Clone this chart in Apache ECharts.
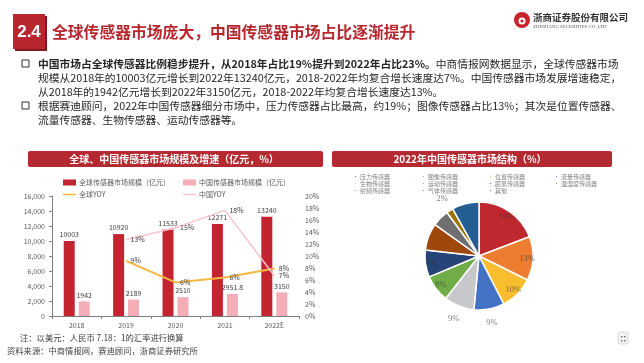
<!DOCTYPE html>
<html><head><meta charset="utf-8">
<script src="https://cdn.jsdelivr.net/npm/echarts@6/dist/echarts.min.js"></script>
<style>html,body{margin:0;padding:0;background:#fff}#c{width:644px;height:363px}</style>
</head><body><div id="c"></div>
<script>
// ---------- data ----------
const years = ['2018', '2019', '2020', '2021', '2022E'];
const globalSize = [10003, 10920, 11533, 12271, 13240];
const chinaSize = [1942, 2189, 2510, 2951.8, 3150];
const globalYoy = [null, 9.2, 5.6, 6.4, 7.9];
const chinaYoy = [null, 12.7, 14.7, 17.6, 6.7];
const sizeAxisMax = 16000;
const sizeAxisStep = 2000;
const yoyAxisMax = 20;
const yoyAxisStep = 2;
const seriesNames = ['全球传感器市场规模（亿元）', '中国传感器市场规模（亿元）', '全球YOY', '中国YOY'];
const pieNames = ['压力传感器', '图像传感器', '位置传感器', '流量传感器', '生物传感器', '运动传感器',
  '距离传感器', '温湿度传感器', '射频传感器', '气体传感器', '其他'];
const pieValues = [19, 13, 10, 9, 9, 8, 8, 8, 5, 2, 8];

// ---------- styling ----------
const FONT = '"Noto Sans CJK SC","Noto Sans",sans-serif';
const RED = '#B8262E';
const pieColors = ['#C0282F', '#ED7D31', '#F9BE2F', '#4472C4', '#C6C8CC', '#70AD47',
  '#264478', '#9E480E', '#6F6F6F', '#997300', '#255E91'];
const insideLabelIdx = [0, 1, 2, 5, 6];
const outsideLabelIdx = [3, 4, 9];
const pieLegendCols = [[0, 4, 8], [1, 5, 9], [2, 6, 10], [3, 7]];
const pieLegendX = [353, 421, 488, 554];

const chart = echarts.init(document.getElementById('c'), null, {renderer: 'canvas'});

function txt(x, y, text, size, fill, opts) {
  return {
    type: 'text', silent: true,
    style: Object.assign({
      x: x, y: y, text: text, fill: fill,
      fontSize: size, fontFamily: FONT, textVerticalAlign: 'middle'
    }, opts || {})
  };
}
const BODY = 10.75;

const graphics = [
  // section number box
  {type: 'rect', silent: true, shape: {x: 15, y: 16, width: 32, height: 35}, style: {fill: '#7d1a1f'}},
  {type: 'rect', silent: true, shape: {x: 13, y: 14, width: 32, height: 35}, style: {fill: RED}},
  txt(29, 32, '2.4', 17, '#fff', {textAlign: 'center', fontWeight: 'bold', fontFamily: '"Liberation Sans",Arial,sans-serif'}),
  txt(52, 32, '全球传感器市场庞大，中国传感器市场占比逐渐提升', 15.8, RED, {fontWeight: 'bold'}),
  // logo
  {type: 'circle', silent: true, shape: {cx: 522, cy: 20, r: 8}, style: {fill: '#C8242B'}},
  {type: 'circle', silent: true, shape: {cx: 522, cy: 21, r: 3.5}, style: {fill: '#fff'}},
  {type: 'circle', silent: true, shape: {cx: 522, cy: 21, r: 1.6}, style: {fill: '#C8242B'}},
  txt(533, 17, '浙商证券股份有限公司', 9.5, '#333', {fontWeight: 'bold', fontFamily: '"Noto Sans CJK SC",serif'}),
  txt(533, 27, 'ZHESHANG SECURITIES CO.,LTD', 4.8, '#555', {fontFamily: '"Liberation Serif",serif'}),
  // bullet text block
  {type: 'rect', silent: true, shape: {x: 22, y: 60, width: 7, height: 7}, style: {fill: 'none', stroke: '#333', lineWidth: 1}},
  {type: 'rect', silent: true, shape: {x: 22, y: 102, width: 7, height: 7}, style: {fill: 'none', stroke: '#333', lineWidth: 1}},
  {type: 'text', silent: true, style: {x: 38, y: 64, textVerticalAlign: 'middle', fontSize: BODY, fontFamily: FONT, fill: '#262626',
    text: '{b|中国市场占全球传感器比例稳步提升，从2018年占比19%提升到2022年占比23%。}中商情报网数据显示，全球传感器市场',
    rich: {b: {fontWeight: 'bold', fontSize: BODY, fontFamily: FONT, fill: '#262626'}}}},
  txt(38, 78, '规模从2018年的10003亿元增长到2022年13240亿元，2018-2022年均复合增长速度达7%。中国传感器市场发展增速稳定，', BODY, '#262626'),
  txt(38, 92, '从2018年的1942亿元增长到2022年3150亿元，2018-2022年均复合增长速度达13%。', BODY, '#262626'),
  txt(38, 106, '根据赛迪顾问，2022年中国传感器细分市场中，压力传感器占比最高，约19%；图像传感器占比13%；其次是位置传感器、', BODY, '#262626'),
  txt(38, 120, '流量传感器、生物传感器、运动传感器等。', BODY, '#262626'),
  // chart header bars
  {type: 'rect', silent: true, shape: {x: 28, y: 151, width: 295, height: 16, r: 2}, style: {fill: '#B52A31'}},
  txt(174, 159, '全球、中国传感器市场规模及增速（亿元，%）', 10, '#fff', {textAlign: 'center', fontWeight: 'bold'}),
  {type: 'rect', silent: true, shape: {x: 332, y: 151, width: 280, height: 16, r: 2}, style: {fill: '#B52A31'}},
  txt(470, 159, '2022年中国传感器市场结构（%）', 10, '#fff', {textAlign: 'center', fontWeight: 'bold'}),
  // footer
  txt(20, 338, '注：以美元：人民币 7.18：1的汇率进行换算', 8.3, '#404040'),
  txt(7, 351, '资料来源：中商情报网，赛迪顾问，浙商证券研究所', 8.3, '#404040'),
  // small corner icon
  {type: 'rect', silent: true, shape: {x: 618, y: 332, width: 10, height: 12, r: 2}, style: {fill: '#f4f4f4', stroke: '#d0d0d0', lineWidth: 0.8}},
  {type: 'rect', silent: true, shape: {x: 621, y: 336, width: 1.5, height: 1.5}, style: {fill: '#777'}},
  {type: 'rect', silent: true, shape: {x: 624, y: 336, width: 1.5, height: 1.5}, style: {fill: '#777'}},
  {type: 'rect', silent: true, shape: {x: 621, y: 340, width: 1.5, height: 1.5}, style: {fill: '#777'}},
  {type: 'rect', silent: true, shape: {x: 624, y: 340, width: 1.5, height: 1.5}, style: {fill: '#777'}}
];

const legendText = {fontSize: 7, color: '#595959', fontFamily: FONT};
function barLegend(name, left, top, icon, h) {
  return {data: [{name: name, icon: icon}], left: left, top: top, itemWidth: 13, itemHeight: h,
    itemGap: 0, padding: 0, textStyle: Object.assign({padding: [0, 0, 0, -2]}, legendText), selectedMode: false};
}

const pieLegends = pieLegendCols.map(function (col, ci) {
  return {
    orient: 'vertical', left: pieLegendX[ci], top: 173, padding: 0, itemGap: 0,
    itemWidth: 3, itemHeight: 3, icon: 'circle', selectedMode: false,
    data: col.map(function (i) { return pieNames[i]; }),
    textStyle: {fontSize: 6, lineHeight: 7, color: '#7f7f7f', fontFamily: FONT, padding: [0, 0, 0, -2]}
  };
});

const pieMain = pieNames.map(function (n, i) {
  return {name: n, value: pieValues[i], itemStyle: {color: pieColors[i]}};
});
const pieInside = pieValues.map(function (v, i) {
  return {value: v, label: {show: insideLabelIdx.indexOf(i) >= 0}};
});
const pieOutside = pieValues.map(function (v, i) {
  return {value: v, label: {show: outsideLabelIdx.indexOf(i) >= 0}};
});
const overlayBase = {
  type: 'pie', center: [479, 256], startAngle: 90, clockwise: true, silent: true,
  animation: false, itemStyle: {color: 'rgba(0,0,0,0)'}, labelLine: {show: false},
  emphasis: {disabled: true}, avoidLabelOverlap: false, minAngle: 0
};

const option = {
  animation: false,
  backgroundColor: '#fff',
  textStyle: {fontFamily: FONT},
  graphic: {elements: graphics},
  legend: [
    barLegend(seriesNames[0], 63, 179, 'rect', 6),
    barLegend(seriesNames[1], 183, 179, 'rect', 6),
    barLegend(seriesNames[2], 63, 191, 'rect', 1.5),
    barLegend(seriesNames[3], 183, 191, 'rect', 1.5)
  ].concat(pieLegends),
  grid: {left: 52, top: 196, width: 247, height: 120, containLabel: false},
  xAxis: {
    type: 'category', data: years,
    axisLine: {lineStyle: {color: '#7f7f7f', width: 1}},
    axisTick: {show: true, length: 3, lineStyle: {color: '#7f7f7f'}},
    axisLabel: {fontSize: 7, color: '#595959', margin: 6}
  },
  yAxis: [{
    type: 'value', min: 0, max: sizeAxisMax, interval: sizeAxisStep,
    axisLine: {show: true, lineStyle: {color: '#7f7f7f'}},
    axisTick: {show: true, length: 3, lineStyle: {color: '#7f7f7f'}},
    axisLabel: {fontSize: 7, color: '#595959', margin: 7},
    splitLine: {show: false}
  }, {
    type: 'value', min: 0, max: yoyAxisMax, interval: yoyAxisStep, position: 'right',
    axisLine: {show: false}, axisTick: {show: false},
    axisLabel: {fontSize: 7, color: '#595959', margin: 6, formatter: '{value}%'},
    splitLine: {show: false}
  }],
  series: [
    {name: seriesNames[0], type: 'bar', data: globalSize, barWidth: 11, barGap: '36%',
      itemStyle: {color: '#C3242F'},
      label: {show: true, position: 'top', distance: 3, fontSize: 7, color: '#404040'}},
    {name: seriesNames[1], type: 'bar', data: chinaSize, barWidth: 11,
      itemStyle: {color: '#F5AEB8'},
      label: {show: true, position: 'top', distance: 3, fontSize: 7, color: '#404040'}},
    {name: seriesNames[2], type: 'line', yAxisIndex: 1, data: globalYoy,
      symbol: 'circle', symbolSize: 1, itemStyle: {color: '#F4B840'},
      lineStyle: {color: '#F4B840', width: 2},
      label: {show: true, position: 'right', distance: 4, fontSize: 7, color: '#404040',
        formatter: function (p) { return Math.round(p.value) + '%'; }}},
    {name: seriesNames[3], type: 'line', yAxisIndex: 1, data: chinaYoy,
      symbol: 'circle', symbolSize: 1, itemStyle: {color: '#F7C5CD'},
      lineStyle: {color: '#F7C5CD', width: 1.5},
      label: {show: true, position: 'right', distance: 4, fontSize: 7, color: '#404040',
        formatter: function (p) { return Math.round(p.value) + '%'; }}},
    {type: 'pie', center: [479, 256], radius: 54, startAngle: 90, clockwise: true,
      data: pieMain, label: {show: false}, labelLine: {show: false},
      itemStyle: {borderColor: '#fff', borderWidth: 1.5}, emphasis: {disabled: true}},
    Object.assign({}, overlayBase, {radius: [36, 54], data: pieInside,
      label: {position: 'inside', fontSize: 8.5, color: 'rgba(50,50,50,0.6)',
        fontFamily: '"Liberation Serif",serif', formatter: '{c}%'}}),
    Object.assign({}, overlayBase, {radius: [54, 76], data: pieOutside,
      label: {position: 'inside', fontSize: 8.5, color: '#808080',
        fontFamily: '"Liberation Serif",serif', formatter: '{c}%'}})
  ]
};
chart.setOption(option);
</script>
</body></html>
